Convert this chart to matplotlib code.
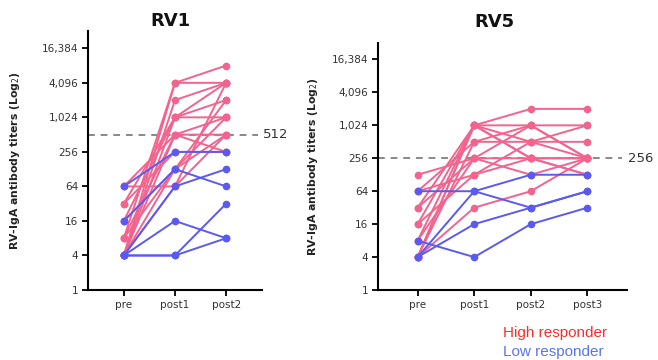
import matplotlib
matplotlib.use('Agg')

import numpy as np
import matplotlib.pyplot as plt

# colours
pink = '#F2648E'
blue = '#5A5AF2'

# RV1 data: titers per subject at pre, post1, post2
rv1_labels = ['pre', 'post1', 'post2']
rv1_high = [
    [4, 4096, 8192],
    [8, 4096, 4096],
    [4, 2048, 4096],
    [16, 1024, 4096],
    [4, 1024, 1024],
    [32, 1024, 2048],
    [64, 512, 256],
    [4, 512, 512],
    [4, 128, 1024],
    [8, 128, 512],
    [4, 64, 4096],
    [64, 64, 512],
    [16, 128, 2048],
    [32, 256, 256],
    [8, 512, 1024],
]
rv1_low = [
    [64, 256, 256],
    [16, 128, 64],
    [4, 64, 128],
    [4, 16, 8],
    [4, 4, 32],
    [4, 4, 8],
]
rv1_cutoff = 512

# RV5 data: titers per subject at pre, post1, post2, post3
rv5_labels = ['pre', 'post1', 'post2', 'post3']
rv5_high = [
    [16, 1024, 2048, 2048],
    [4, 1024, 1024, 1024],
    [8, 1024, 512, 256],
    [32, 1024, 256, 128],
    [64, 512, 1024, 256],
    [4, 512, 512, 512],
    [128, 256, 256, 256],
    [8, 256, 1024, 256],
    [16, 128, 256, 256],
    [64, 128, 512, 1024],
    [4, 32, 64, 256],
    [32, 256, 128, 256],
    [4, 1024, 256, 128],
]
rv5_low = [
    [64, 64, 32, 64],
    [4, 64, 128, 128],
    [4, 16, 32, 64],
    [8, 4, 16, 32],
]
rv5_cutoff = 256

yticks = [1, 4, 16, 64, 256, 1024, 4096, 16384]

fig = plt.figure(figsize=(6.58, 3.6), dpi=100)
ax1 = fig.add_axes([0.1337, 0.1944, 0.2644, 0.7194])
ax2 = fig.add_axes([0.5745, 0.1944, 0.3784, 0.6861])


def draw_panel(ax, labels, high, low, cutoff, ylabel_x):
    x = np.arange(len(labels))
    for row in high:
        ax.plot(x, row, '-o', color=pink, lw=1.4, ms=4.5, clip_on=False)
    for row in low:
        ax.plot(x, row, '-o', color=blue, lw=1.4, ms=4.5, clip_on=False)
    ax.set_yscale('log', base=2)
    ax.set_ylim(1, 2 ** 15)
    ax.set_xlim(-0.7, len(labels) - 0.3)
    ax.set_yticks(yticks)
    ax.set_yticklabels([f'{v:,}' for v in yticks])
    ax.yaxis.set_minor_locator(matplotlib.ticker.NullLocator())
    ax.set_xticks(x)
    ax.set_xticklabels(labels)
    ax.tick_params(axis='both', labelsize=7.5, labelcolor='#333333',
                   width=1.3, length=4, direction='out', pad=3)
    for s in ['top', 'right']:
        ax.spines[s].set_visible(False)
    for s in ['left', 'bottom']:
        ax.spines[s].set_linewidth(1.5)
    ax.axhline(cutoff, xmin=0, xmax=0.98, color='#888888', lw=1.4,
               ls=(0, (3.5, 3)), zorder=0)
    ax.text(1.005, cutoff, str(cutoff), transform=ax.get_yaxis_transform(),
            va='center', ha='left', fontsize=9.5, color='#333333')
    ax.set_ylabel('RV-IgA antibody titers (Log$_2$)', fontsize=7.8,
                  fontweight='bold', color='#222222')
    ax.yaxis.set_label_coords(ylabel_x, 0.5, transform=fig.transFigure)


draw_panel(ax1, rv1_labels, rv1_high, rv1_low, rv1_cutoff, 22 / 658)
draw_panel(ax2, rv5_labels, rv5_high, rv5_low, rv5_cutoff, 320 / 658)
ax2.yaxis.set_label_coords(320 / 658, 0.5 * 0.6861 + 0.1944, transform=fig.transFigure)
ax1.yaxis.set_label_coords(22 / 658, 0.5 * 0.7194 + 0.1944, transform=fig.transFigure)

fig.text(170 / 658, 1 - 21 / 360, 'RV1', ha='center', va='center',
         fontsize=13, fontweight='bold', color='#111111')
fig.text(494 / 658, 1 - 22 / 360, 'RV5', ha='center', va='center',
         fontsize=13, fontweight='bold', color='#111111')

fig.text(503 / 658, 1 - 333 / 360, 'High responder', ha='left', va='center',
         fontsize=11, color='#FF2A2A', family='Liberation Sans')
fig.text(503 / 658, 1 - 352 / 360, 'Low responder', ha='left', va='center',
         fontsize=11, color='#5B73F5', family='Liberation Sans')

fig.savefig('out.png', dpi=100)
